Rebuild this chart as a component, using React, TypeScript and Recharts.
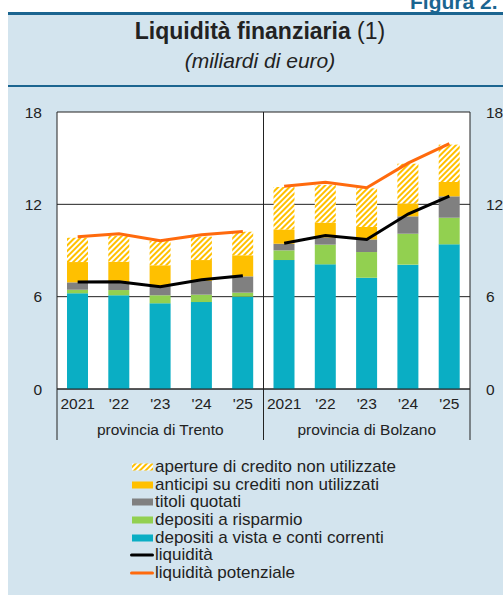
import { ComposedChart, Bar, Line, XAxis, YAxis, CartesianGrid } from "recharts";

const years = ["2021", "'22", "'23", "'24", "'25", "2021", "'22", "'23", "'24", "'25"];
const provinces = ["provincia di Trento", "provincia di Bolzano"];

// miliardi di euro, Trento first then Bolzano
const depositiVista = [6.22, 6.09, 5.57, 5.65, 6.0, 8.38, 8.1, 7.23, 8.08, 9.4];
const depositiRisparmio = [0.23, 0.34, 0.52, 0.48, 0.26, 0.63, 1.28, 1.67, 2.01, 1.73];
const titoliQuotati = [0.48, 0.5, 0.6, 0.89, 1.06, 0.43, 0.47, 0.82, 1.13, 1.39];
const anticipi = [1.32, 1.34, 1.35, 1.36, 1.37, 0.93, 0.96, 0.81, 0.84, 0.93];
const aperture = [1.58, 1.69, 1.58, 1.52, 1.53, 2.76, 2.45, 2.51, 2.58, 2.43];
const liquidita = [6.95, 6.97, 6.65, 7.1, 7.36, 9.47, 9.98, 9.72, 11.37, 12.54];
const liquiditaPotenziale = [9.9, 10.09, 9.64, 10.03, 10.24, 13.17, 13.43, 13.08, 14.68, 15.94];

const yTicks = [0, 6, 12, 18];

const COLORS = {
  vista: "#0aaec4",
  risparmio: "#92d050",
  titoli: "#808080",
  anticipi: "#ffc000",
  liq: "#000000",
  pot: "#ff6a0d",
  panel: "#d3e4ee",
  blue: "#1b6590",
};

const data = years.map((year, i) => ({
  year,
  vista: depositiVista[i],
  risparmio: depositiRisparmio[i],
  titoli: titoliQuotati[i],
  anticipi: anticipi[i],
  aperture: aperture[i],
  liqT: i < 5 ? liquidita[i] : null,
  liqB: i >= 5 ? liquidita[i] : null,
  potT: i < 5 ? liquiditaPotenziale[i] : null,
  potB: i >= 5 ? liquiditaPotenziale[i] : null,
}));

const FONT = "'Liberation Sans', Arial, Helvetica, sans-serif";

const GroupTick = (props: any) => {
  const { x, y, payload, index } = props;
  const half = payload.offset ?? 0;
  return (
    <g>
      <text x={x} y={y + 20} textAnchor="middle" fontSize={15.5} fill="#222" fontFamily={FONT}>
        {payload.value}
      </text>
      {index % 5 === 0 && (
        <line x1={x - half} x2={x - half} y1={y} y2={y + 51} stroke="#222" />
      )}
      {index === years.length - 1 && (
        <line x1={x + half} x2={x + half} y1={y} y2={y + 51} stroke="#222" />
      )}
      {index % 5 === 2 && (
        <text x={x} y={y + 46} textAnchor="middle" fontSize={15.5} fill="#222" fontFamily={FONT}>
          {provinces[Math.floor(index / 5)]}
        </text>
      )}
    </g>
  );
};

const legendItems = [
  { label: "aperture di credito non utilizzate", kind: "hatch" },
  { label: "anticipi su crediti non utilizzati", kind: "bar", color: COLORS.anticipi },
  { label: "titoli quotati", kind: "bar", color: COLORS.titoli },
  { label: "depositi a risparmio", kind: "bar", color: COLORS.risparmio },
  { label: "depositi a vista e conti correnti", kind: "bar", color: COLORS.vista },
  { label: "liquidità", kind: "line", color: COLORS.liq },
  { label: "liquidità potenziale", kind: "line", color: COLORS.pot },
];

const Swatch = ({ item }: any) => (
  <svg width={24} height={10} style={{ display: "block", marginRight: 1 }}>
    <defs>
      <pattern id="hatchLegend" patternUnits="userSpaceOnUse" width="4" height="4" patternTransform="rotate(45)">
        <rect width="4" height="4" fill="#fff" />
        <rect width="2" height="4" fill={COLORS.anticipi} />
      </pattern>
    </defs>
    {item.kind === "hatch" && <rect x={2} y={1.5} width={21} height={7} fill="url(#hatchLegend)" />}
    {item.kind === "bar" && <rect x={2} y={1.5} width={21} height={7} fill={item.color} />}
    {item.kind === "line" && (
      <line x1={1.5} x2={22.5} y1={5} y2={5} stroke={item.color} strokeWidth={3} strokeLinecap="round" />
    )}
  </svg>
);

export default function App() {
  return (
    <div
      style={{
        position: "absolute",
        left: 0,
        top: 0,
        width: 503,
        height: 595,
        overflow: "hidden",
        background: "#fff",
        fontFamily: FONT,
      }}
    >
      <div
        style={{
          position: "absolute",
          left: 410,
          top: -10,
          fontSize: 21,
          fontWeight: 700,
          color: COLORS.blue,
          whiteSpace: "nowrap",
        }}
      >
        Figura 2.
      </div>
      <div
        style={{
          position: "absolute",
          left: 8,
          top: 12,
          width: 495,
          height: 583,
          background: COLORS.panel,
          borderTop: `3px solid ${COLORS.blue}`,
          boxSizing: "border-box",
        }}
      />
      <div
        style={{
          position: "absolute",
          left: 8,
          top: 85,
          width: 495,
          height: 2,
          background: COLORS.blue,
        }}
      />
      <div
        style={{
          position: "absolute",
          left: 8,
          width: 504,
          top: 19,
          textAlign: "center",
          fontSize: 23,
          color: "#222",
          lineHeight: "25px",
        }}
      >
        <span style={{ fontWeight: 700 }}>Liquidità finanziaria</span> (1)
      </div>
      <div
        style={{
          position: "absolute",
          left: 8,
          width: 504,
          top: 50,
          textAlign: "center",
          fontSize: 21,
          fontStyle: "italic",
          color: "#222",
          lineHeight: "22px",
        }}
      >
        (miliardi di euro)
      </div>

      <div style={{ position: "absolute", left: 0, top: 0 }}>
        <ComposedChart
          width={503}
          height={441}
          data={data}
          margin={{ top: 112, right: 8, bottom: 0, left: 8 }}
          style={{ overflow: "visible" }}
        >
          <defs>
            <pattern id="hatch" patternUnits="userSpaceOnUse" width="4" height="4" patternTransform="rotate(45)">
              <rect width="4" height="4" fill="#fff" />
              <rect width="2" height="4" fill={COLORS.anticipi} />
            </pattern>
          </defs>
          <CartesianGrid
            yAxisId="left"
            fill="#fff"
            stroke="#222"
            strokeWidth={1}
            verticalCoordinatesGenerator={({ offset }: any) => [
              offset.left,
              offset.left + offset.width / 2,
              offset.left + offset.width,
            ]}
          />
          <XAxis
            dataKey="year"
            height={52}
            tickLine={false}
            tickSize={0}
            tickMargin={0}
            interval={0}
            axisLine={{ stroke: "#222" }}
            tick={<GroupTick />}
          />
          <YAxis
            yAxisId="left"
            domain={[0, 18]}
            ticks={yTicks}
            width={49}
            axisLine={false}
            tickLine={false}
            tickSize={0}
            tickMargin={15}
            tick={{ fontSize: 15.5, fill: "#222", fontFamily: FONT }}
          />
          <YAxis
            yAxisId="right"
            orientation="right"
            domain={[0, 18]}
            ticks={yTicks}
            width={25}
            axisLine={false}
            tickLine={false}
            tickSize={0}
            tickMargin={16}
            tick={{ fontSize: 15.5, fill: "#222", fontFamily: FONT }}
          />
          <Bar yAxisId="left" dataKey="vista" stackId="a" barSize={21} fill={COLORS.vista} isAnimationActive={false} />
          <Bar yAxisId="left" dataKey="risparmio" stackId="a" barSize={21} fill={COLORS.risparmio} isAnimationActive={false} />
          <Bar yAxisId="left" dataKey="titoli" stackId="a" barSize={21} fill={COLORS.titoli} isAnimationActive={false} />
          <Bar yAxisId="left" dataKey="anticipi" stackId="a" barSize={21} fill={COLORS.anticipi} isAnimationActive={false} />
          <Bar yAxisId="left" dataKey="aperture" stackId="a" barSize={21} fill="url(#hatch)" isAnimationActive={false} />
          <Line yAxisId="left" dataKey="liqT" stroke={COLORS.liq} strokeWidth={3} dot={false} isAnimationActive={false} />
          <Line yAxisId="left" dataKey="liqB" stroke={COLORS.liq} strokeWidth={3} dot={false} isAnimationActive={false} />
          <Line yAxisId="right" dataKey="potT" stroke={COLORS.pot} strokeWidth={3} dot={false} isAnimationActive={false} />
          <Line yAxisId="right" dataKey="potB" stroke={COLORS.pot} strokeWidth={3} dot={false} isAnimationActive={false} />
        </ComposedChart>
      </div>

      <div style={{ position: "absolute", left: 130, top: 458 }}>
        {legendItems.map((item) => (
          <div
            key={item.label}
            style={{ display: "flex", alignItems: "center", height: 17.7, fontSize: 17, color: "#222", whiteSpace: "nowrap" }}
          >
            <Swatch item={item} />
            <span>{item.label}</span>
          </div>
        ))}
      </div>
    </div>
  );
}
